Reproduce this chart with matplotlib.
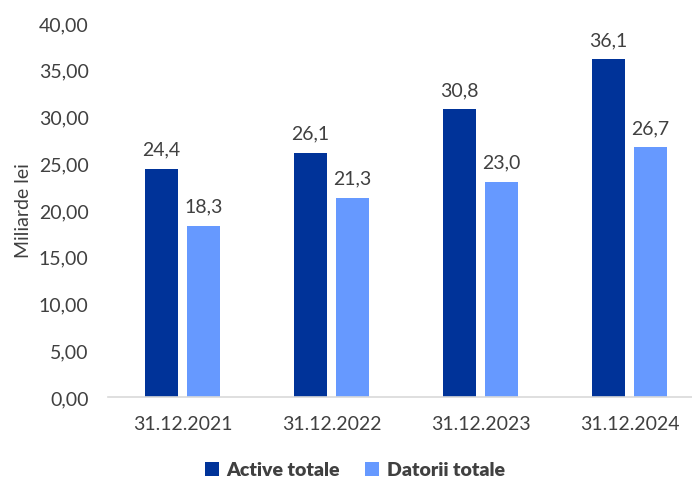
import matplotlib.pyplot as plt
import numpy as np

plt.rcParams['font.family'] = ['Lato', 'DejaVu Sans']

dates = ['31.12.2021', '31.12.2022', '31.12.2023', '31.12.2024']
active = [24.4, 26.1, 30.8, 36.1]
datorii = [18.3, 21.3, 23.0, 26.7]
y_ticks = [0, 5, 10, 15, 20, 25, 30, 35, 40]

dark = '#003399'
light = '#6699FF'
txt = '#404040'
fs = 14

fig = plt.figure(figsize=(6.92, 4.85), dpi=100)
ax = fig.add_axes([108 / 692, 87 / 485, 596 / 692, 374 / 485])

x = np.arange(len(dates))
w = 0.225
off = 0.142
b1 = ax.bar(x - off, active, w, color=dark, label='Active totale')
b2 = ax.bar(x + off, datorii, w, color=light, label='Datorii totale')

def fmt(v):
    return f'{v:.1f}'.replace('.', ',')

for bars, vals in ((b1, active), (b2, datorii)):
    for r, v in zip(bars, vals):
        ax.annotate(fmt(v), (r.get_x() + r.get_width() / 2, v),
                    xytext=(0, 8), textcoords='offset points',
                    ha='center', va='bottom', fontsize=fs, color=txt)

ax.set_xlim(-0.5, 3.5)
ax.set_ylim(0, 40)
ax.set_yticks(y_ticks)
ax.set_yticklabels([f'{t:.2f}'.replace('.', ',') for t in y_ticks])
ax.set_xticks(x)
ax.set_xticklabels(dates)
ax.tick_params(axis='both', length=0, labelsize=fs, labelcolor=txt)
ax.tick_params(axis='x', pad=13)
ax.tick_params(axis='y', pad=14)

for s in ['top', 'right', 'left']:
    ax.spines[s].set_visible(False)
ax.spines['bottom'].set_color('#d9d9d9')
ax.spines['bottom'].set_linewidth(1.2)

ax.set_ylabel('Miliarde lei', fontsize=fs, color=txt, labelpad=5)

leg = fig.legend(handles=[b1, b2], loc='center', bbox_to_anchor=(355 / 692, 14 / 485),
                 ncol=2, frameon=False, handlelength=0.7, handleheight=0.7,
                 handletextpad=0.4, columnspacing=1.3,
                 prop={'size': fs, 'weight': 'heavy'})
for t in leg.get_texts():
    t.set_color(txt)

fig.savefig('out.png', dpi=100)
